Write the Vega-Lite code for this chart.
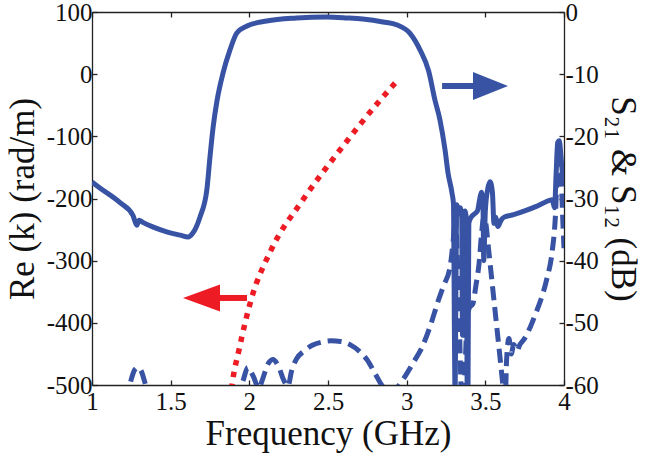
{
  "$schema": "https://vega.github.io/schema/vega-lite/v6.json",
  "width": 472,
  "height": 373,
  "autosize": {"type": "none"},
  "padding": {"left": 92, "top": 12, "right": 81, "bottom": 71},
  "background": "white",
  "config": {
    "font": "Liberation Serif",
    "view": {"stroke": null},
    "axis": {
      "labelFont": "Liberation Serif",
      "titleFont": "Liberation Serif",
      "labelFontSize": 25,
      "titleFontSize": 35,
      "titleFontWeight": "normal",
      "labelColor": "#111",
      "titleColor": "#111",
      "domainColor": "#222",
      "tickColor": "#222",
      "domainWidth": 1.3,
      "tickWidth": 1.3,
      "grid": false,
      "tickSize": -5,
      "labelOverlap": false,
      "labelFlush": false
    }
  },
  "datasets": {
    "rek": [
      {"f": 1.87, "v": -545},
      {"f": 1.89, "v": -500},
      {"f": 1.934, "v": -444},
      {"f": 2.011, "v": -363},
      {"f": 2.138, "v": -283},
      {"f": 2.341, "v": -202},
      {"f": 2.576, "v": -122},
      {"f": 2.831, "v": -42},
      {"f": 2.945, "v": -9}
    ],
    "redArrow": [{"f": 1.782, "f2": 1.985, "v": -360}],
    "redHead": [{"f": 1.696, "v": -360}],
    "blueArrow": [{"f": 3.225, "f2": 3.466, "v": -11.9}],
    "blueHead": [{"f": 3.533, "v": -11.9}],
    "s21": [
      {"f": 1.00, "v": -27.35}, {"f": 1.05, "v": -28.3}, {"f": 1.18, "v": -30.7}, {"f": 1.26, "v": -32.7},
      {"f": 1.285, "v": -34.3}, {"f": 1.30, "v": -33.5}, {"f": 1.32, "v": -33.8}, {"f": 1.39, "v": -34.6},
      {"f": 1.48, "v": -35.4}, {"f": 1.56, "v": -35.9}, {"f": 1.61, "v": -36.2}, {"f": 1.64, "v": -35.6},
      {"f": 1.686, "v": -33.0}, {"f": 1.73, "v": -28.6}, {"f": 1.75, "v": -23.3}, {"f": 1.77, "v": -18.5},
      {"f": 1.795, "v": -14.2}, {"f": 1.833, "v": -9.8}, {"f": 1.877, "v": -6.1}, {"f": 1.92, "v": -3.4},
      {"f": 1.985, "v": -2.25}, {"f": 2.11, "v": -1.45}, {"f": 2.30, "v": -0.97}, {"f": 2.49, "v": -0.8},
      {"f": 2.62, "v": -0.95}, {"f": 2.72, "v": -1.13}, {"f": 2.85, "v": -1.6}, {"f": 2.94, "v": -2.1},
      {"f": 3.02, "v": -3.4}, {"f": 3.085, "v": -6.1}, {"f": 3.14, "v": -9.5}, {"f": 3.18, "v": -14.2},
      {"f": 3.212, "v": -17.4}, {"f": 3.244, "v": -22.2}, {"f": 3.263, "v": -25.9}, {"f": 3.288, "v": -29.1},
      {"f": 3.298, "v": -31}, {"f": 3.303, "v": -50}, {"f": 3.308, "v": -62}, {"f": 3.313, "v": -45},
      {"f": 3.318, "v": -31}, {"f": 3.33, "v": -32.5}, {"f": 3.34, "v": -31.5}, {"f": 3.35, "v": -33},
      {"f": 3.355, "v": -52}, {"f": 3.36, "v": -33}, {"f": 3.37, "v": -32}, {"f": 3.38, "v": -33.5},
      {"f": 3.385, "v": -62}, {"f": 3.39, "v": -60}, {"f": 3.395, "v": -34}, {"f": 3.41, "v": -33},
      {"f": 3.43, "v": -32.5}, {"f": 3.45, "v": -32}, {"f": 3.465, "v": -30}, {"f": 3.475, "v": -29},
      {"f": 3.485, "v": -31}, {"f": 3.49, "v": -40}, {"f": 3.50, "v": -32}, {"f": 3.515, "v": -28.5},
      {"f": 3.53, "v": -27.3}, {"f": 3.545, "v": -29}, {"f": 3.555, "v": -34}, {"f": 3.565, "v": -33},
      {"f": 3.58, "v": -34.5}, {"f": 3.60, "v": -33.5}, {"f": 3.62, "v": -33}, {"f": 3.68, "v": -32.6},
      {"f": 3.75, "v": -32}, {"f": 3.82, "v": -31.3}, {"f": 3.88, "v": -30.6}, {"f": 3.925, "v": -30.2},
      {"f": 3.94, "v": -31.5}, {"f": 3.95, "v": -26}, {"f": 3.96, "v": -21}, {"f": 3.97, "v": -20.7},
      {"f": 3.98, "v": -23}, {"f": 3.99, "v": -26}, {"f": 4.00, "v": -27.5}
    ],
    "s12": [
      {"f": 1.00, "v": -75}, {"f": 1.15, "v": -68}, {"f": 1.22, "v": -62}, {"f": 1.245, "v": -59.5},
      {"f": 1.27, "v": -57.6}, {"f": 1.29, "v": -57.2}, {"f": 1.31, "v": -57.6}, {"f": 1.335, "v": -59.5},
      {"f": 1.36, "v": -62}, {"f": 1.45, "v": -70}, {"f": 1.65, "v": -72}, {"f": 1.85, "v": -66},
      {"f": 1.92, "v": -61.5}, {"f": 1.96, "v": -59.3}, {"f": 1.99, "v": -57.2}, {"f": 2.025, "v": -58.6},
      {"f": 2.06, "v": -60.5}, {"f": 2.085, "v": -59}, {"f": 2.115, "v": -56.8}, {"f": 2.15, "v": -55.9},
      {"f": 2.185, "v": -57}, {"f": 2.22, "v": -59.3}, {"f": 2.245, "v": -60.2}, {"f": 2.27, "v": -57.6},
      {"f": 2.30, "v": -55.8}, {"f": 2.35, "v": -54.5}, {"f": 2.40, "v": -53.6}, {"f": 2.46, "v": -53.1},
      {"f": 2.52, "v": -52.9}, {"f": 2.58, "v": -53.0}, {"f": 2.64, "v": -53.5}, {"f": 2.70, "v": -54.6},
      {"f": 2.75, "v": -56}, {"f": 2.80, "v": -58.2}, {"f": 2.85, "v": -60.3}, {"f": 2.90, "v": -61},
      {"f": 2.94, "v": -60.4}, {"f": 2.98, "v": -59}, {"f": 3.04, "v": -56.5}, {"f": 3.10, "v": -53.8},
      {"f": 3.15, "v": -50.5}, {"f": 3.20, "v": -46.5}, {"f": 3.235, "v": -44}, {"f": 3.276, "v": -41},
      {"f": 3.295, "v": -37}, {"f": 3.31, "v": -33}, {"f": 3.32, "v": -38}, {"f": 3.335, "v": -50},
      {"f": 3.345, "v": -60}, {"f": 3.355, "v": -64}, {"f": 3.37, "v": -58}, {"f": 3.385, "v": -49},
      {"f": 3.40, "v": -47.5}, {"f": 3.42, "v": -47}, {"f": 3.44, "v": -44}, {"f": 3.46, "v": -40.5},
      {"f": 3.475, "v": -36}, {"f": 3.49, "v": -33}, {"f": 3.50, "v": -33.5}, {"f": 3.52, "v": -38},
      {"f": 3.545, "v": -44}, {"f": 3.57, "v": -50}, {"f": 3.595, "v": -56}, {"f": 3.615, "v": -61},
      {"f": 3.625, "v": -64}, {"f": 3.635, "v": -56}, {"f": 3.65, "v": -52.5}, {"f": 3.665, "v": -55},
      {"f": 3.68, "v": -53.5}, {"f": 3.70, "v": -54.5}, {"f": 3.72, "v": -53.5}, {"f": 3.75, "v": -52.5},
      {"f": 3.78, "v": -51}, {"f": 3.82, "v": -48.5}, {"f": 3.85, "v": -46.5}, {"f": 3.89, "v": -43},
      {"f": 3.925, "v": -38.5}, {"f": 3.945, "v": -33}, {"f": 3.96, "v": -24}, {"f": 3.97, "v": -22},
      {"f": 3.98, "v": -25}, {"f": 3.99, "v": -32}, {"f": 4.00, "v": -38}
    ]
  },
  "layer": [
    {
      "encoding": {
        "x": {
          "field": "f", "type": "quantitative",
          "scale": {"domain": [1, 4], "nice": false, "zero": false},
          "axis": {"orient": "bottom", "values": [1, 1.5, 2, 2.5, 3, 3.5, 4], "labelExpr": "toString(datum.value)", "labelFont": "Liberation Serif", "titleFont": "Liberation Serif", "title": "Frequency (GHz)", "labelPadding": 9, "titlePadding": 2}
        },
        "y": {
          "field": "v", "type": "quantitative",
          "scale": {"domain": [-500, 100], "nice": false, "zero": false},
          "axis": {"orient": "left", "values": [-500, -400, -300, -200, -100, 0, 100], "labelExpr": "toString(datum.value)", "labelFont": "Liberation Serif", "titleFont": "Liberation Serif", "title": "Re (k) (rad/m)", "labelPadding": 5, "titlePadding": 6}
        }
      },
      "layer": [
        {
          "data": {"name": "rek"},
          "mark": {"type": "line", "clip": true, "color": "#ED1C24", "strokeWidth": 5.5, "strokeDash": [5.5, 6.5], "strokeCap": "butt", "interpolate": "monotone"}
        },
        {
          "data": {"name": "redArrow"},
          "mark": {"type": "rule", "color": "#ED1C24", "strokeWidth": 6},
          "encoding": {"x2": {"field": "f2"}}
        },
        {
          "data": {"name": "redHead"},
          "mark": {"type": "point", "filled": true, "opacity": 1, "color": "#ED1C24", "strokeWidth": 0, "shape": "M1,-0.73L-1,0L1,0.73Z", "size": 1369}
        }
      ]
    },
    {
      "encoding": {
        "x": {
          "field": "f", "type": "quantitative",
          "scale": {"domain": [1, 4], "nice": false, "zero": false},
          "axis": {"orient": "top", "values": [1, 1.5, 2, 2.5, 3, 3.5, 4], "labels": false, "title": null}
        },
        "y": {
          "field": "v", "type": "quantitative",
          "scale": {"domain": [-60, 0], "nice": false, "zero": false},
          "axis": {"orient": "right", "values": [-60, -50, -40, -30, -20, -10, 0], "labelExpr": "toString(datum.value)", "labelFont": "Liberation Serif", "titleFont": "Liberation Serif", "title": "S₂₁ & S₁₂ (dB)", "labelPadding": 6, "titlePadding": 6}
        }
      },
      "layer": [
        {
          "data": {"name": "s12"},
          "mark": {"type": "line", "clip": true, "color": "#3853A4", "strokeWidth": 5, "strokeDash": [14, 7], "interpolate": "monotone"}
        },
        {
          "data": {"name": "s21"},
          "mark": {"type": "line", "clip": true, "color": "#3853A4", "strokeWidth": 5, "interpolate": "monotone"}
        },
        {
          "data": {"name": "blueArrow"},
          "mark": {"type": "rule", "color": "#3853A4", "strokeWidth": 6},
          "encoding": {"x2": {"field": "f2"}}
        },
        {
          "data": {"name": "blueHead"},
          "mark": {"type": "point", "filled": true, "opacity": 1, "color": "#3853A4", "strokeWidth": 0, "shape": "M-1,-0.8L1,0L-1,0.8Z", "size": 1225}
        }
      ]
    }
  ],
  "resolve": {"scale": {"y": "independent"}, "axis": {"x": "independent", "y": "independent"}}
}
